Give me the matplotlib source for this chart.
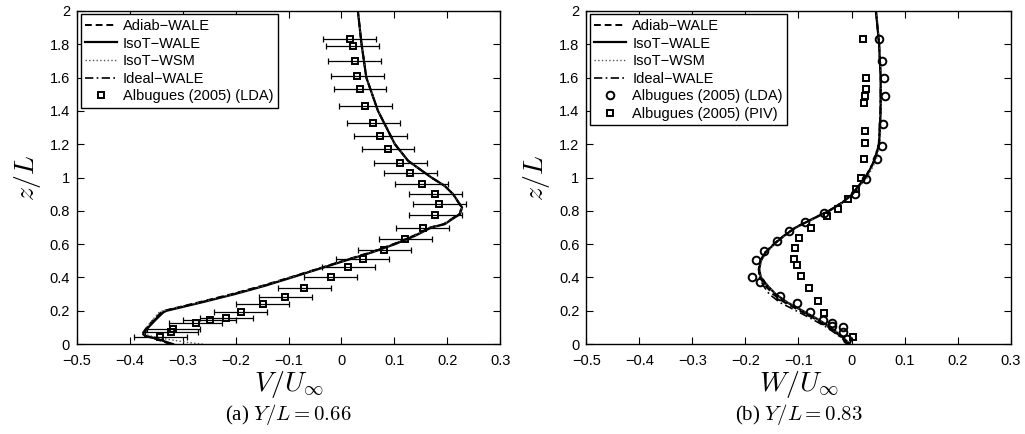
import numpy as np
import matplotlib
matplotlib.use('Agg')
import matplotlib.pyplot as plt

plt.rcParams['font.family'] = ['Liberation Sans', 'DejaVu Sans']
plt.rcParams['mathtext.fontset'] = 'cm'

# ---- panel (a): V/U_inf at Y/L = 0.66 ----
z_a = [0, 0.01, 0.03, 0.05, 0.06, 0.1, 0.15, 0.19, 0.2, 0.25, 0.3, 0.35, 0.4, 0.45,
       0.5, 0.55, 0.6, 0.65, 0.7, 0.72, 0.76, 0.78, 0.82, 0.9, 0.95, 1.0, 1.1, 1.2,
       1.4, 1.6, 1.8, 2.0]
isot_wale_a = [-0.318, -0.328, -0.346, -0.370, -0.375, -0.365, -0.350, -0.337, -0.331,
               -0.265, -0.202, -0.145, -0.094, -0.044, 0.006, 0.057, 0.101, 0.139,
               0.170, 0.195, 0.214, 0.224, 0.228, 0.211, 0.195, 0.170, 0.126, 0.101,
               0.069, 0.047, 0.038, 0.031]
adiab_wale_a = [-0.322, -0.332, -0.350, -0.372, -0.377, -0.368, -0.354, -0.341, -0.336,
                -0.271, -0.208, -0.150, -0.098, -0.047, 0.003, 0.054, 0.098, 0.136,
                0.167, 0.193, 0.212, 0.223, 0.227, 0.211, 0.195, 0.170, 0.126, 0.101,
                0.069, 0.047, 0.038, 0.031]
isot_wsm_a = [-0.262, -0.290, -0.330, -0.362, -0.372, -0.368, -0.356, -0.345, -0.338,
              -0.268, -0.204, -0.147, -0.096, -0.045, 0.005, 0.056, 0.100, 0.138,
              0.169, 0.194, 0.213, 0.224, 0.228, 0.211, 0.195, 0.170, 0.126, 0.101,
              0.069, 0.047, 0.038, 0.031]
ideal_wale_a = [-0.320, -0.330, -0.348, -0.371, -0.376, -0.367, -0.352, -0.339, -0.334,
                -0.268, -0.205, -0.148, -0.096, -0.046, 0.004, 0.055, 0.099, 0.137,
                0.168, 0.194, 0.213, 0.223, 0.227, 0.211, 0.195, 0.170, 0.126, 0.101,
                0.069, 0.047, 0.038, 0.031]

lda_z_a = [1.83, 1.79, 1.70, 1.61, 1.53, 1.43, 1.33, 1.25, 1.17, 1.09, 1.03, 0.964,
           0.90, 0.842, 0.774, 0.70, 0.634, 0.566, 0.514, 0.464, 0.402, 0.338, 0.284,
           0.240, 0.194, 0.156, 0.146, 0.124, 0.09, 0.07, 0.04]
lda_v_a = [0.016, 0.021, 0.025, 0.030, 0.035, 0.045, 0.060, 0.073, 0.088, 0.111, 0.130,
           0.152, 0.177, 0.185, 0.177, 0.154, 0.121, 0.081, 0.040, 0.013, -0.020,
           -0.070, -0.106, -0.149, -0.190, -0.218, -0.249, -0.275, -0.318, -0.322,
           -0.342]
lda_err_a = [0.05] * len(lda_v_a)

# ---- panel (b): W/U_inf at Y/L = 0.83 ----
z_b = [0, 0.05, 0.1, 0.15, 0.2, 0.25, 0.3, 0.35, 0.4, 0.45, 0.5, 0.55, 0.6, 0.65, 0.7,
       0.75, 0.8, 0.85, 0.9, 0.95, 1.0, 1.1, 1.2, 1.4, 1.6, 1.8, 2.0]
isot_wale_b = [-0.003, -0.020, -0.039, -0.064, -0.092, -0.121, -0.143, -0.158, -0.171,
               -0.174, -0.171, -0.162, -0.146, -0.127, -0.105, -0.074, -0.042, -0.017,
               0.002, 0.014, 0.027, 0.043, 0.052, 0.055, 0.055, 0.052, 0.046]
adiab_wale_b = [-0.004, -0.022, -0.042, -0.068, -0.097, -0.126, -0.148, -0.162, -0.173,
                -0.175, -0.172, -0.163, -0.147, -0.128, -0.106, -0.075, -0.043, -0.018,
                0.001, 0.013, 0.026, 0.043, 0.052, 0.055, 0.055, 0.052, 0.046]
isot_wsm_b = [-0.002, -0.019, -0.038, -0.063, -0.091, -0.120, -0.142, -0.157, -0.170,
              -0.173, -0.170, -0.161, -0.145, -0.126, -0.104, -0.073, -0.041, -0.016,
              0.003, 0.016, 0.030, 0.046, 0.054, 0.056, 0.056, 0.053, 0.047]
ideal_wale_b = [-0.005, -0.024, -0.046, -0.074, -0.104, -0.135, -0.155, -0.166, -0.174,
                -0.175, -0.172, -0.163, -0.147, -0.128, -0.106, -0.075, -0.043, -0.018,
                0.001, 0.013, 0.026, 0.042, 0.051, 0.054, 0.055, 0.052, 0.046]

lda_z_b = [1.83, 1.70, 1.60, 1.49, 1.32, 1.19, 1.11, 0.99, 0.90, 0.79, 0.736, 0.68,
           0.62, 0.56, 0.504, 0.402, 0.37, 0.29, 0.248, 0.192, 0.144, 0.126, 0.11,
           0.10, 0.07, 0.03]
lda_w_b = [0.052, 0.057, 0.062, 0.063, 0.060, 0.057, 0.048, 0.028, 0.006, -0.052,
           -0.087, -0.118, -0.141, -0.165, -0.181, -0.187, -0.172, -0.134, -0.103,
           -0.078, -0.054, -0.037, -0.037, -0.017, -0.017, -0.008]
piv_z_b = [1.83, 1.60, 1.53, 1.49, 1.45, 1.28, 1.21, 1.11, 1.00, 0.93, 0.874, 0.81,
           0.77, 0.70, 0.636, 0.578, 0.514, 0.474, 0.406, 0.336, 0.256, 0.184, 0.04]
piv_w_b = [0.021, 0.028, 0.027, 0.025, 0.023, 0.026, 0.025, 0.023, 0.018, 0.008,
           -0.007, -0.025, -0.046, -0.076, -0.099, -0.106, -0.108, -0.103, -0.096,
           -0.081, -0.064, -0.051, 0.002]

fig = plt.figure(figsize=(10.25, 4.34), dpi=100)
ax1 = fig.add_axes([0.075, 0.207, 0.413, 0.768])
ax2 = fig.add_axes([0.572, 0.207, 0.414, 0.768])


def draw_models(ax, z, adiab, isot, wsm, ideal):
    ax.plot(adiab, z, color='black', linestyle=(0, (3.5, 2)), lw=1.4, label='Adiab\u2212WALE')
    ax.plot(isot, z, color='black', linestyle='-', lw=1.6, label='IsoT\u2212WALE')
    ax.plot(wsm, z, color='#555555', linestyle=':', lw=1.0, label='IsoT\u2212WSM')
    ax.plot(ideal, z, color='black', linestyle=(0, (5, 2, 1, 2)), lw=1.2, label='Ideal\u2212WALE')


def style(ax, xlabel, caption):
    ax.set_xlim(-0.5, 0.3)
    ax.set_ylim(0, 2)
    ax.set_xticks(np.arange(-0.5, 0.31, 0.1))
    ax.set_xticklabels(['\u22120.5', '\u22120.4', '\u22120.3', '\u22120.2', '\u22120.1',
                        '0', '0.1', '0.2', '0.3'])
    ax.set_yticks(np.arange(0, 2.01, 0.2))
    ax.set_yticklabels(['0', '0.2', '0.4', '0.6', '0.8', '1', '1.2', '1.4', '1.6', '1.8', '2'])
    ax.tick_params(direction='in', top=True, right=True, labelsize=10.5, length=5,
                   width=0.8)
    ax.tick_params(axis='x', pad=7)
    ax.tick_params(axis='y', pad=5)
    for s in ax.spines.values():
        s.set_linewidth(1.0)
    ax.set_xlabel(xlabel, fontsize=20, labelpad=1)
    ax.set_ylabel(r'$z/L$', fontsize=20, labelpad=5)
    pos = ax.get_position()
    fig.text((pos.x0 + pos.x1) / 2, 0.045, caption, ha='center', va='center',
             fontsize=15, family='Liberation Serif')
    leg = ax.legend(loc='upper left', fontsize=10.5, frameon=True, fancybox=False,
                    edgecolor='black', framealpha=1, borderaxespad=0.25,
                    handlelength=2.2, handletextpad=0.4, labelspacing=0.25,
                    borderpad=0.3, numpoints=1)
    leg.get_frame().set_linewidth(1.0)


draw_models(ax1, z_a, adiab_wale_a, isot_wale_a, isot_wsm_a, ideal_wale_a)
ax1.errorbar(lda_v_a, lda_z_a, xerr=lda_err_a, fmt='none', ecolor='black',
             elinewidth=0.9, capsize=2.5, capthick=0.9)
ax1.plot(lda_v_a, lda_z_a, 's', mfc='none', mec='black', mew=1.4, ms=4.5,
         label='Albugues (2005) (LDA)')
style(ax1, r'$V/U_\infty$', r'(a) $Y/L = 0.66$')

draw_models(ax2, z_b, adiab_wale_b, isot_wale_b, isot_wsm_b, ideal_wale_b)
ax2.plot(lda_w_b, lda_z_b, 'o', mfc='none', mec='black', mew=1.4, ms=5.5,
         label='Albugues (2005) (LDA)')
ax2.plot(piv_w_b, piv_z_b, 's', mfc='none', mec='black', mew=1.4, ms=4.5,
         label='Albugues (2005) (PIV)')
style(ax2, r'$W/U_\infty$', r'(b) $Y/L = 0.83$')

fig.savefig('out.png', dpi=100)
